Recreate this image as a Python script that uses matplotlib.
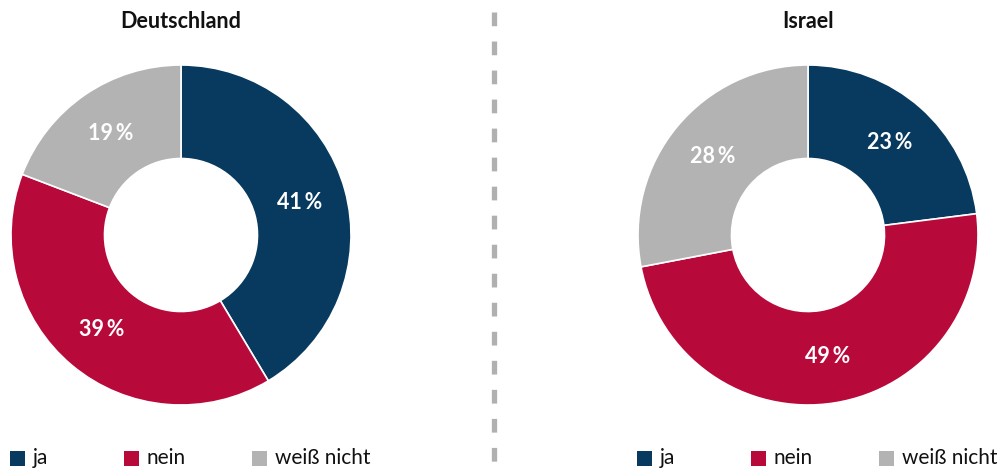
import matplotlib.pyplot as plt
from matplotlib.patches import Rectangle
from matplotlib.lines import Line2D

categories = ['ja', 'nein', 'weiß nicht']
colors = ['#073A5E', '#B8093B', '#B3B3B3']
countries = ['Deutschland', 'Israel']
de_values = [41, 39, 19]
il_values = [23, 49, 28]

plt.rcParams['font.family'] = ['Lato', 'DejaVu Sans']

W, H = 1003, 469
fig = plt.figure(figsize=(W / 100, H / 100), dpi=100)


def px_axes(x0, y0, x1, y1):
    # pixel box (top-left origin) -> figure axes
    return fig.add_axes([x0 / W, 1 - y1 / H, (x1 - x0) / W, (y1 - y0) / H])


def draw_donut(cx, values, title):
    r = 170
    ax = px_axes(cx - r, 235 - r, cx + r, 235 + r)
    wedges, texts = ax.pie(values, colors=colors, startangle=90, counterclock=False,
                           radius=1, labels=[f'{v}\u2009%' for v in values],
                           labeldistance=0.725,
                           wedgeprops=dict(width=0.55, edgecolor='white', linewidth=1.2),
                           textprops=dict(color='white', fontsize=15.5, fontweight='bold',
                                          ha='center', va='center'))
    ax.set_xlim(-1, 1)
    ax.set_ylim(-1, 1)
    ax.axis('off')
    fig.text(cx / W, 1 - 22 / H, title, ha='center', va='center',
             fontsize=15.5, fontweight='bold', color='#111111')
    # legend
    lx0 = cx - r
    offsets = [0, 114, 242]
    for cat, col, off in zip(categories, colors, offsets):
        x = lx0 + off - 1
        fig.patches.append(Rectangle((x / W, 1 - 466 / H), 15 / W, 15 / H,
                                     transform=fig.transFigure, facecolor=col,
                                     edgecolor='none'))
        fig.text((x + 23) / W, 1 - 458 / H, cat, ha='left', va='center',
                 fontsize=15, color='#111111')


draw_donut(181, de_values, countries[0])
draw_donut(808, il_values, countries[1])

# dashed divider
fig.add_artist(Line2D([494.5 / W, 494.5 / W], [1 - 12 / H, 0],
                      transform=fig.transFigure, color='#B0B0B0', linewidth=3.8,
                      linestyle=(0, (2.6, 2.9))))

fig.savefig('out.png', dpi=100)
